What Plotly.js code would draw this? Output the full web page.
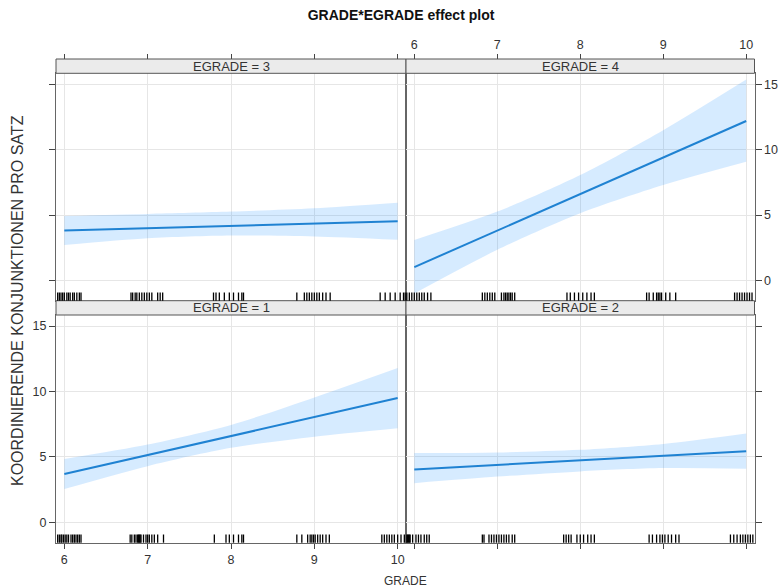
<!DOCTYPE html>
<html>
<head>
<meta charset="utf-8">
<script src="https://cdn.plot.ly/plotly-3.0.1.min.js"></script>
<style>html,body{margin:0;padding:0;background:#fff;}#chart{width:782px;height:587px;}</style>
</head>
<body>
<div id="chart"></div>
<script>
// ---- data ----
const grade = [6, 7, 8, 9, 10];
const yTicks = [0, 5, 10, 15];

// EGRADE = 1
const fit1 = [3.70, 5.15, 6.60, 8.05, 9.50];
const up1  = [4.85, 5.95, 7.45, 9.55, 11.80];
const lo1  = [2.55, 4.30, 5.70, 6.55, 7.20];
// EGRADE = 2
const fit2 = [4.05, 4.40, 4.75, 5.10, 5.44];
const up2  = [5.30, 5.35, 5.55, 6.00, 6.80];
const lo2  = [3.00, 3.50, 3.90, 4.15, 4.10];
// EGRADE = 3
const fit3 = [3.82, 4.00, 4.18, 4.36, 4.53];
const up3  = [4.94, 5.09, 5.27, 5.52, 5.95];
const lo3  = [2.72, 3.23, 3.44, 3.36, 3.11];
// EGRADE = 4
const fit4 = [1.02, 3.82, 6.62, 9.42, 12.20];
const up4  = [3.10, 5.27, 8.07, 11.50, 15.37];
const lo4  = [-1.00, 2.34, 5.14, 7.30, 9.08];

// rug (observed GRADE values, jittered)
const rug1 = [5.92,5.94,5.96,5.97,5.99,6.01,6.03,6.05,6.08,6.10,6.12,6.14,6.16,6.18,6.20,
  6.79,6.81,6.84,6.86,6.88,6.89,6.90,6.91,6.92,6.95,6.98,7.00,7.02,7.05,7.08,7.12,7.19,
  7.80,7.94,7.98,8.03,8.09,8.13,8.15,
  8.79,8.85,8.92,8.95,8.97,8.99,9.01,9.04,9.07,9.10,9.14,9.18,
  9.81,9.84,9.87,9.90,9.93,9.96,10.00,10.04,10.08];
const rug2 = [5.91,5.92,5.93,5.94,5.95,5.98,6.02,6.05,6.08,6.12,6.15,6.18,
  6.82,6.84,6.90,6.93,6.96,6.99,7.02,7.05,7.08,7.11,7.14,7.18,7.21,
  7.80,7.83,7.86,7.89,7.96,8.00,8.04,8.09,8.13,8.17,
  8.83,8.87,8.92,8.96,8.99,9.02,9.06,9.10,9.15,9.19,
  9.81,9.85,9.89,9.93,9.96,9.99,10.02,10.05,10.08];
const rug3 = [5.92,5.94,5.96,5.98,6.00,6.03,6.05,6.07,6.10,6.12,6.15,6.18,6.20,
  6.80,6.82,6.85,6.87,6.90,6.93,6.96,6.99,7.02,7.05,7.12,7.15,7.18,
  7.79,7.82,7.86,7.92,7.98,8.03,8.09,8.13,8.15,
  8.79,8.88,8.91,8.94,8.97,9.00,9.03,9.06,9.10,9.14,9.19,
  9.79,9.85,9.91,9.97,10.03,10.07,10.09];
const rug4 = [5.91,5.94,5.97,6.00,6.03,6.06,6.09,6.12,6.16,6.20,
  6.82,6.85,6.88,6.91,6.94,6.97,7.05,7.08,7.10,7.12,7.14,7.16,7.18,7.21,
  7.84,7.88,7.93,7.98,8.03,8.08,8.13,8.17,
  8.80,8.83,8.88,8.92,8.94,8.96,8.98,9.03,9.08,9.15,
  9.86,9.89,9.92,9.95,9.98,10.01,10.04,10.07];

const stripLabels = ['EGRADE = 1', 'EGRADE = 2', 'EGRADE = 3', 'EGRADE = 4'];

// ---- layout geometry ----
const W = 782, H = 587;
const px = v => v / W, py = v => 1 - v / H;
const domL = [px(56), px(406)], domR = [px(406), px(754.5)];
const domT = [py(300.7), py(73.3)], domB = [py(542.7), py(315)];
const stripT = [domT[1], py(59)], stripB = [domB[1], domT[0]];

const lineCol = '#1f82d2';
const bandCol = 'rgba(0,128,255,0.16)';
const FONT = 'Liberation Sans, Arial, sans-serif';

const panels = [
  {xa:'x',  ya:'y',  fit:fit1, up:up1, lo:lo1, rug:rug1, xd:domL, strip:stripB, lab:stripLabels[0]},
  {xa:'x2', ya:'y2', fit:fit2, up:up2, lo:lo2, rug:rug2, xd:domR, strip:stripB, lab:stripLabels[1]},
  {xa:'x3', ya:'y3', fit:fit3, up:up3, lo:lo3, rug:rug3, xd:domL, strip:stripT, lab:stripLabels[2]},
  {xa:'x4', ya:'y4', fit:fit4, up:up4, lo:lo4, rug:rug4, xd:domR, strip:stripT, lab:stripLabels[3]}
];

const traces = [];
const shapes = [];
const annotations = [];
panels.forEach(p => {
  traces.push({x:grade, y:p.up, xaxis:p.xa, yaxis:p.ya, mode:'lines',
    line:{width:0, shape:'spline', smoothing:0.8}, hoverinfo:'skip', showlegend:false});
  traces.push({x:grade, y:p.lo, xaxis:p.xa, yaxis:p.ya, mode:'lines', fill:'tonexty',
    fillcolor:bandCol, line:{width:0, shape:'spline', smoothing:0.8}, hoverinfo:'skip', showlegend:false});
  traces.push({x:grade, y:p.fit, xaxis:p.xa, yaxis:p.ya, mode:'lines',
    line:{color:lineCol, width:2}, showlegend:false});
  p.rug.forEach(v => {
    shapes.push({type:'line', xref:p.xa, yref:p.ya + ' domain', x0:v, x1:v, y0:0, y1:0.036,
      line:{color:'#000', width:1.3}, layer:'above'});
  });
  shapes.push({type:'rect', xref:'paper', yref:'paper', x0:p.xd[0], x1:p.xd[1],
    y0:p.strip[0], y1:p.strip[1], fillcolor:'#ebebeb', line:{color:'#555', width:1}, layer:'above'});
  annotations.push({xref:'paper', yref:'paper', x:(p.xd[0]+p.xd[1])/2, y:(p.strip[0]+p.strip[1])/2,
    text:p.lab, showarrow:false, xanchor:'center', yanchor:'middle',
    font:{family:FONT, size:13, color:'#333'}});
});
// dummy traces so the top tick axes are created
traces.push({x:[6], y:[null], xaxis:'x5', yaxis:'y3', mode:'lines', showlegend:false, hoverinfo:'skip'});
traces.push({x:[6], y:[null], xaxis:'x6', yaxis:'y4', mode:'lines', showlegend:false, hoverinfo:'skip'});

const tickFont = {family:FONT, size:12.5, color:'#333'};
const xBase = {range:[5.9, 10.1], tickvals:grade, ticktext:grade.map(String), showgrid:true, gridcolor:'#e6e6e6',
  gridwidth:1, zeroline:false, showline:true, mirror:true, linecolor:'#666', linewidth:1,
  ticks:'outside', ticklen:5, tickcolor:'#444', tickfont:tickFont, fixedrange:true};
const yBase = {range:[-1.55, 15.85], tickvals:yTicks, ticktext:yTicks.map(String), showgrid:true,
  gridcolor:'#e6e6e6', gridwidth:1, zeroline:false, showline:true, mirror:true, linecolor:'#666',
  linewidth:1, ticks:'outside', ticklen:6, tickcolor:'#444', tickfont:tickFont, fixedrange:true};

annotations.push({xref:'paper', yref:'paper', x:px(405), y:py(581), text:'GRADE', showarrow:false,
  xanchor:'center', yanchor:'middle', font:{family:FONT, size:12, color:'#333'}});
annotations.push({xref:'paper', yref:'paper', x:px(17), y:py(301), text:'KOORDINIERENDE KONJUNKTIONEN PRO SATZ',
  showarrow:false, textangle:-90, xanchor:'center', yanchor:'middle', font:{family:FONT, size:16, color:'#333'}});

const layout = {
  width:W, height:H, margin:{l:0, r:0, t:0, b:0}, paper_bgcolor:'#fff', plot_bgcolor:'#fff',
  showlegend:false,
  title:{text:'<b>GRADE*EGRADE effect plot</b>', x:px(401), xanchor:'center', y:py(15), yanchor:'middle',
    font:{family:FONT, size:14, color:'#111'}},
  xaxis: Object.assign({}, xBase, {domain:domL, anchor:'y', showticklabels:true}),
  xaxis2:Object.assign({}, xBase, {domain:domR, anchor:'y2', showticklabels:false}),
  xaxis3:Object.assign({}, xBase, {domain:domL, anchor:'y3', showticklabels:false, ticks:''}),
  xaxis4:Object.assign({}, xBase, {domain:domR, anchor:'y4', showticklabels:false, ticks:''}),
  xaxis5:Object.assign({}, xBase, {overlaying:'x3', side:'top', anchor:'free', position:py(59),
    showgrid:false, showline:false, mirror:false, showticklabels:false}),
  xaxis6:Object.assign({}, xBase, {overlaying:'x4', side:'top', anchor:'free', position:py(59),
    showgrid:false, showline:false, mirror:false, showticklabels:true}),
  yaxis: Object.assign({}, yBase, {domain:domB, anchor:'x', side:'left', showticklabels:true}),
  yaxis2:Object.assign({}, yBase, {domain:domB, anchor:'x2', side:'right', showticklabels:false}),
  yaxis3:Object.assign({}, yBase, {domain:domT, anchor:'x3', side:'left', showticklabels:false}),
  yaxis4:Object.assign({}, yBase, {domain:domT, anchor:'x4', side:'right', showticklabels:true}),
  shapes:shapes, annotations:annotations
};

Plotly.newPlot('chart', traces, layout, {displayModeBar:false, staticPlot:true});
</script>
</body>
</html>
